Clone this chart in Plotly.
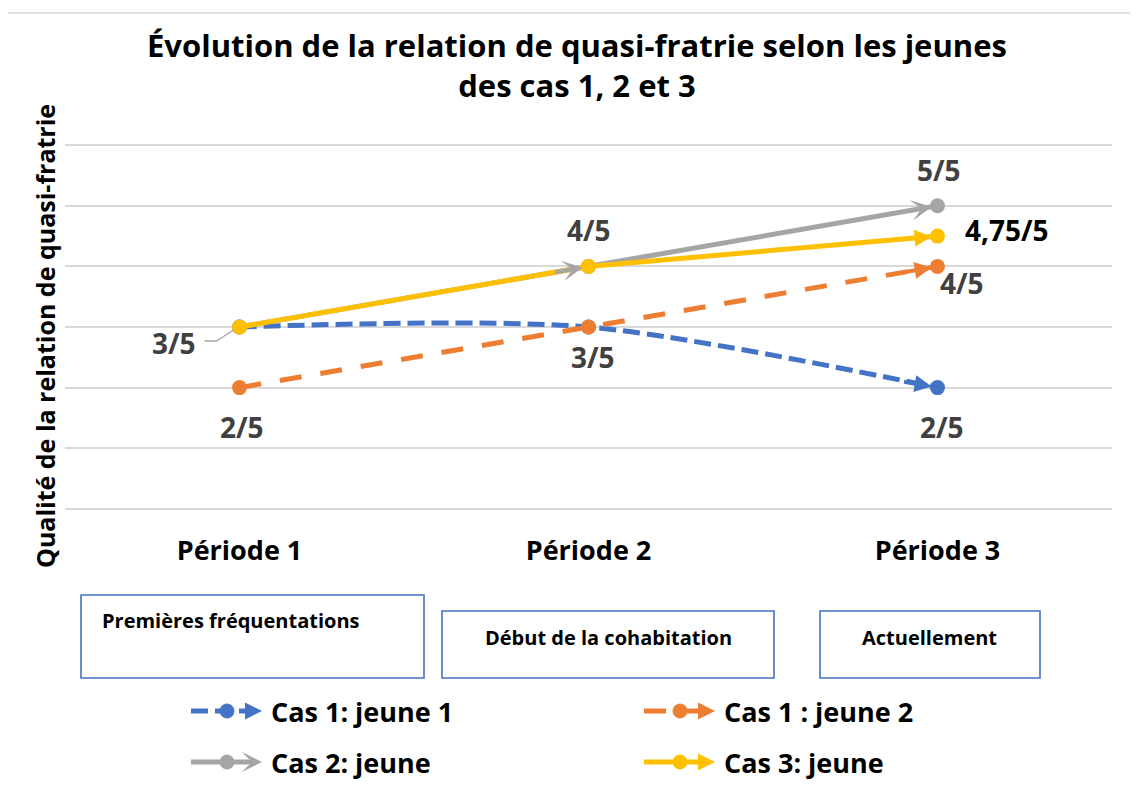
import plotly.graph_objects as go

# ---------------- data ----------------
categories = ["Période 1", "Période 2", "Période 3"]
period_boxes = ["Premières fréquentations", "Début de la cohabitation", "Actuellement"]

series_names = ["Cas 1: jeune 1", "Cas 1 : jeune 2", "Cas 2: jeune", "Cas 3: jeune"]
cas1_jeune1 = [3, 3, 2]
cas1_jeune2 = [2, 3, 4]
cas2_jeune = [3, 4, 5]
cas3_jeune = [3, 4, 4.5]

# data labels: (series index, point index, text)
label_series = [0, 1, 2, 1, 2, 3, 1, 0]
label_points = [0, 0, 1, 1, 2, 2, 2, 2]
label_texts = ["3/5", "2/5", "4/5", "3/5", "5/5", "4,75/5", "4/5", "2/5"]

title_text = "Évolution de la relation de quasi-fratrie selon les jeunes<br>des cas 1, 2 et 3"
y_title = "Qualité de la relation de quasi-fratrie"

# ---------------- styles ----------------
OFF = 8  # page body margin: figure origin sits at (8, 8) on screen
W, H = 1138 - OFF, 802 - OFF
# plot area in screen pixels
SL, SR, ST, SB = 65, 1112, 144, 510
L, R, T, B = SL - OFF, SR - OFF, ST - OFF, SB - OFF
colors = ["#4472C4", "#ED7D31", "#A5A5A5", "#FFC000"]
dashes = ["17px,7px", "22px,19px", "solid", "solid"]
shapes_line = ["spline", "linear", "linear", "linear"]
FONT = "Open Sans"
LW = 5

values = [cas1_jeune1, cas1_jeune2, cas2_jeune, cas3_jeune]
xidx = list(range(len(categories)))


def px_x(p):  # screen px -> paper x
    return (p - SL) / (SR - SL)


def px_y(p):  # screen px -> paper y
    return (SB - p) / (SB - ST)


fig = go.Figure()
for i, (name, vals) in enumerate(zip(series_names, values)):
    fig.add_trace(go.Scatter(
        x=xidx, y=vals, name=name, mode="lines+markers",
        line=dict(color=colors[i], width=LW, dash=dashes[i], shape=shapes_line[i], smoothing=0.8),
        marker=dict(size=15, color=colors[i], symbol="circle"),
        showlegend=False,
        hoverinfo="skip",
    ))

annotations = []
shapes = []

# arrowheads at line ends (and gray also at middle point)
arrow_points = {0: [2], 1: [2], 2: [1, 2], 3: [2]}
arrow_style = {0: 2, 1: 2, 2: 3, 3: 2}
for s, pts in arrow_points.items():
    vals = values[s]
    for p in pts:
        f = 0.1
        tx = xidx[p] - f * (xidx[p] - xidx[p - 1])
        ty = vals[p] - f * (vals[p] - vals[p - 1])
        annotations.append(dict(
            x=xidx[p], y=vals[p], ax=tx, ay=ty, xref="x", yref="y", axref="x", ayref="y",
            showarrow=True, arrowhead=arrow_style[s], arrowsize=0.85, arrowwidth=4,
            arrowcolor=colors[s], standoff=6, text="",
        ))

# data labels
offsets = [(-66, -16), (2, -39), (0, 36), (4, -30), (1, 36), (69, 6), (24, -17), (4, -39)]
for k, (s, p, t) in enumerate(zip(label_series, label_points, label_texts)):
    dx, dy = offsets[k]
    col = "#000000" if t == "4,75/5" else "#404040"
    annotations.append(dict(
        x=xidx[p], y=values[s][p], xref="x", yref="y", text=t,
        showarrow=False, xshift=dx, yshift=dy,
        font=dict(family=FONT, size=28, color=col, weight="bold"),
    ))
    if k == 0:
        # elbow leader line from the label to its point
        shapes.append(dict(
            type="path", xref="x", yref="y", xsizemode="pixel", ysizemode="pixel",
            xanchor=xidx[p], yanchor=values[s][p],
            path="M-35,-14 L-23,-14 L-6,-3",
            line=dict(color="#A5A5A5", width=1.3), fillcolor="rgba(0,0,0,0)",
        ))

# title
annotations.append(dict(
    x=px_x(577), y=px_y(65), xref="paper", yref="paper", text=title_text,
    showarrow=False, xanchor="center", yanchor="middle",
    font=dict(family=FONT, size=31, color="#000000", weight="bold"),
))

# y-axis title
annotations.append(dict(
    x=px_x(45), y=px_y(336), xref="paper", yref="paper", text=y_title,
    textangle=-90, showarrow=False, xanchor="center", yanchor="middle",
    font=dict(family=FONT, size=25, color="#000000", weight="bold"),
))

# period boxes
box_px = [(81, 595, 424, 678), (442, 611, 774, 678), (820, 611, 1040, 678)]
text_px = [(100, 620, "left"), (608, 637, "center"), (929, 637, "center")]
for (x0, y0, x1, y1), (tx, ty, anc), txt in zip(box_px, text_px, period_boxes):
    shapes.append(dict(type="rect", xref="paper", yref="paper",
                       x0=px_x(x0), x1=px_x(x1), y0=px_y(y0), y1=px_y(y1),
                       line=dict(color="#4472C4", width=1.6), fillcolor="rgba(0,0,0,0)"))
    annotations.append(dict(x=px_x(tx), y=px_y(ty), xref="paper", yref="paper", text=txt,
                            showarrow=False, xanchor=anc, yanchor="middle",
                            font=dict(family=FONT, size=20, color="#000000", weight="bold")))

# custom legend (symbol: line + circle + arrowhead, then bold text)
legend_pos = [(191, 711), (644, 711), (191, 762), (644, 762)]
for i, (lx, ly) in enumerate(legend_pos):
    shapes.append(dict(type="line", xref="paper", yref="paper",
                       x0=px_x(lx), x1=px_x(lx + 58), y0=px_y(ly), y1=px_y(ly),
                       line=dict(color=colors[i], width=LW, dash=dashes[i])))
    shapes.append(dict(type="circle", xref="paper", yref="paper",
                       x0=px_x(lx + 29), x1=px_x(lx + 43), y0=px_y(ly + 7), y1=px_y(ly - 7),
                       line=dict(color=colors[i], width=1), fillcolor=colors[i]))
    annotations.append(dict(x=px_x(lx + 71), y=px_y(ly), xref="paper", yref="paper",
                            ax=-20, ay=0, showarrow=True, arrowhead=arrow_style[i],
                            arrowsize=0.85, arrowwidth=4, arrowcolor=colors[i],
                            standoff=0, text=""))
    annotations.append(dict(x=px_x(lx + 78), y=px_y(ly), xref="paper", yref="paper",
                            text=series_names[i], showarrow=False,
                            xanchor="left", yanchor="middle",
                            font=dict(family=FONT, size=27, color="#000000", weight="bold")))

# chart border
shapes.append(dict(type="rect", xref="paper", yref="paper", x0=px_x(7), x1=px_x(1138 + 30),
                   y0=px_y(802 + 30), y1=px_y(13), line=dict(color="#D9D9D9", width=1.5),
                   fillcolor="rgba(0,0,0,0)", layer="below"))

fig.update_layout(
    width=W, height=H,
    margin=dict(l=L, r=W - R, t=T, b=H - B, autoexpand=False),
    paper_bgcolor="white", plot_bgcolor="white",
    xaxis=dict(range=[-0.5, 2.5], tickvals=xidx, ticktext=categories, showgrid=False,
               zeroline=False, showline=False, ticks="outside", ticklen=17,
               tickcolor="rgba(0,0,0,0)",
               tickfont=dict(family=FONT, size=27, color="#000000", weight="bold"),
               fixedrange=True),
    yaxis=dict(range=[-0.02, 6.02], tickvals=[0, 1, 2, 3, 4, 5, 6], showgrid=True,
               gridcolor="#D9D9D9", gridwidth=1.5,
               zeroline=False, showticklabels=False, showline=False, fixedrange=True),
    annotations=annotations,
    shapes=shapes,
    showlegend=False,
)

fig.write_html("out.html")
